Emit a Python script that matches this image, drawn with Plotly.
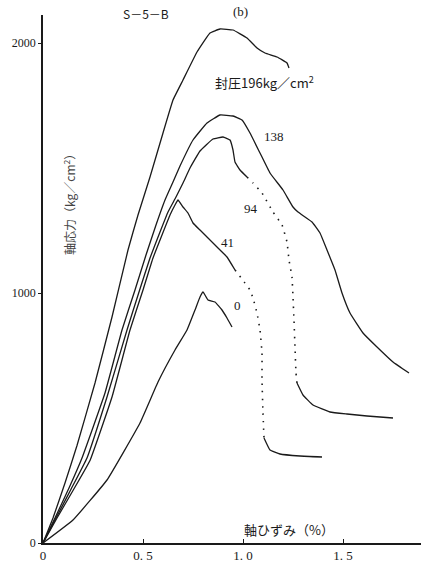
import plotly.graph_objects as go

# Axial strain (%) vs axial stress (kg/cm2) under several confining pressures
STRAIN_196 = [0, 0.05, 0.11, 0.17, 0.26, 0.345, 0.425, 0.475, 0.535, 0.60, 0.65, 0.70,
              0.77, 0.835, 0.885, 0.95, 1.02, 1.07, 1.11, 1.17, 1.22, 1.23]
STRESS_196 = [0, 100, 240, 390, 640, 904, 1172, 1312, 1464, 1640, 1772, 1852,
              1964, 2040, 2056, 2052, 2020, 1980, 1960, 1944, 1920, 1900]

STRAIN_138 = [0, 0.06, 0.13, 0.195, 0.31, 0.395, 0.46, 0.515, 0.565, 0.61, 0.65, 0.685,
              0.75, 0.82, 0.885, 0.95, 0.995, 1.035, 1.085, 1.135, 1.2, 1.25, 1.275,
              1.345, 1.385, 1.42, 1.46, 1.495, 1.535, 1.6, 1.67, 1.75, 1.83]
STRESS_138 = [0, 100, 220, 340, 600, 852, 1012, 1152, 1272, 1372, 1444, 1508,
              1612, 1680, 1712, 1708, 1692, 1640, 1560, 1480, 1412, 1344, 1324,
              1284, 1240, 1172, 1092, 1000, 920, 840, 784, 724, 680]

STRAIN_94_RISE = [0, 0.065, 0.14, 0.22, 0.32, 0.42, 0.48, 0.535, 0.585, 0.625, 0.665,
                  0.70, 0.735, 0.785, 0.85, 0.90, 0.935, 0.95, 0.96, 0.985, 1.02]
STRESS_94_RISE = [0, 100, 215, 340, 584, 852, 1004, 1140, 1244, 1324, 1384,
                  1440, 1500, 1568, 1616, 1624, 1612, 1572, 1524, 1492, 1464]
STRAIN_94_DROP = [1.02, 1.05, 1.095, 1.15, 1.195, 1.22, 1.23, 1.245, 1.25, 1.255, 1.26,
                  1.265, 1.27]
STRESS_94_DROP = [1464, 1440, 1400, 1324, 1272, 1204, 1132, 1064, 984, 892, 784, 680, 640]
STRAIN_94_TAIL = [1.27, 1.30, 1.35, 1.435, 1.52, 1.62, 1.75]
STRESS_94_TAIL = [640, 592, 552, 524, 516, 508, 500]

STRAIN_41_RISE = [0, 0.07, 0.15, 0.235, 0.345, 0.435, 0.50, 0.55, 0.595, 0.635, 0.66,
                  0.675, 0.70, 0.725, 0.75, 0.785, 0.825, 0.87, 0.92, 0.96]
STRESS_41_RISE = [0, 100, 210, 330, 584, 852, 1012, 1140, 1232, 1312, 1352,
                  1372, 1344, 1320, 1280, 1252, 1220, 1184, 1144, 1092]
STRAIN_41_DROP = [0.96, 1.01, 1.035, 1.05, 1.07, 1.085, 1.095, 1.095, 1.10, 1.105]
STRESS_41_DROP = [1092, 1040, 1012, 980, 920, 852, 760, 652, 520, 420]
STRAIN_41_TAIL = [1.105, 1.135, 1.185, 1.285, 1.395]
STRESS_41_TAIL = [420, 372, 356, 348, 344]

STRAIN_0 = [0, 0.15, 0.32, 0.485, 0.575, 0.66, 0.72, 0.76, 0.785, 0.80, 0.825, 0.86,
            0.895, 0.92, 0.945]
STRESS_0 = [0, 92, 252, 480, 644, 772, 852, 932, 984, 1004, 972, 964, 932, 900, 864]

X_TICKS = [0, 0.5, 1.0, 1.5]
X_TICK_TEXT = ["0", "0. 5", "1. 0", "1. 5"]
Y_TICKS = [0, 1000, 2000]
Y_TICK_TEXT = ["0", "1000", "2000"]

SERIF = "Liberation Serif"
JP = "Noto Sans CJK JP"
INK = "#1a1a1a"

fig = go.Figure()

solid = [
    (STRAIN_196, STRESS_196),
    (STRAIN_138, STRESS_138),
    (STRAIN_94_RISE, STRESS_94_RISE),
    (STRAIN_94_TAIL, STRESS_94_TAIL),
    (STRAIN_41_RISE, STRESS_41_RISE),
    (STRAIN_41_TAIL, STRESS_41_TAIL),
    (STRAIN_0, STRESS_0),
]
for xs, ys in solid:
    fig.add_trace(go.Scatter(x=xs, y=ys, mode="lines",
                             line=dict(color=INK, width=1.3, shape="spline", smoothing=0.3),
                             hoverinfo="skip"))

dotted = [(STRAIN_94_DROP, STRESS_94_DROP), (STRAIN_41_DROP, STRESS_41_DROP)]
for xs, ys in dotted:
    fig.add_trace(go.Scatter(x=xs, y=ys, mode="lines",
                             line=dict(color=INK, width=1.6, dash="1.5px,6px",
                                       shape="spline", smoothing=0.3),
                             hoverinfo="skip"))

labels = [
    (0.85, 1844, "封圧196kg／cm<sup>2</sup>", "left", 13, JP),
    (1.155, 1628, "138", "center", 13, SERIF),
    (1.04, 1340, "94", "center", 13, SERIF),
    (0.92, 1204, "41", "center", 13, SERIF),
    (0.97, 952, "0", "center", 13, SERIF),
    (1.23, 56, "軸ひずみ（%）", "center", 13, JP),
]
for x, y, t, anchor, size, fam in labels:
    fig.add_annotation(x=x, y=y, text=t, showarrow=False, xanchor=anchor,
                       yanchor="middle", font=dict(size=size, family=fam, color=INK))

# Specimen name and panel letter sit above the plotting area
fig.add_annotation(x=0.515, y=1.002, yref="paper", text="S－5－B", showarrow=False,
                   yanchor="middle", font=dict(size=12, family=JP, color=INK))
fig.add_annotation(x=0.985, y=1.006, yref="paper", text="(b)", showarrow=False,
                   yanchor="middle", font=dict(size=13, family=SERIF, color=INK))

fig.add_annotation(x=0.13, y=1364, text="軸応力（kg／cm<sup>2</sup>）", textangle=-90,
                   showarrow=False, font=dict(size=12, family=JP, color="#444"))

fig.update_layout(
    width=421, height=569,
    margin=dict(l=43, r=0, t=15, b=26),
    plot_bgcolor="white", paper_bgcolor="white",
    showlegend=False,
    xaxis=dict(range=[0, 1.89], tickvals=X_TICKS, ticktext=X_TICK_TEXT,
               showline=True, linecolor=INK, linewidth=1.5, showgrid=False,
               zeroline=False, ticks="inside", ticklen=4, tickcolor=INK,
               tickfont=dict(size=13, family=SERIF, color=INK)),
    yaxis=dict(range=[0, 2112], tickvals=Y_TICKS, ticktext=Y_TICK_TEXT,
               showline=True, linecolor=INK, linewidth=1.5, showgrid=False,
               zeroline=False, ticks="outside", ticklen=3, tickcolor=INK,
               tickfont=dict(size=12, family=SERIF, color=INK)),
)

fig.write_html("out.html")
